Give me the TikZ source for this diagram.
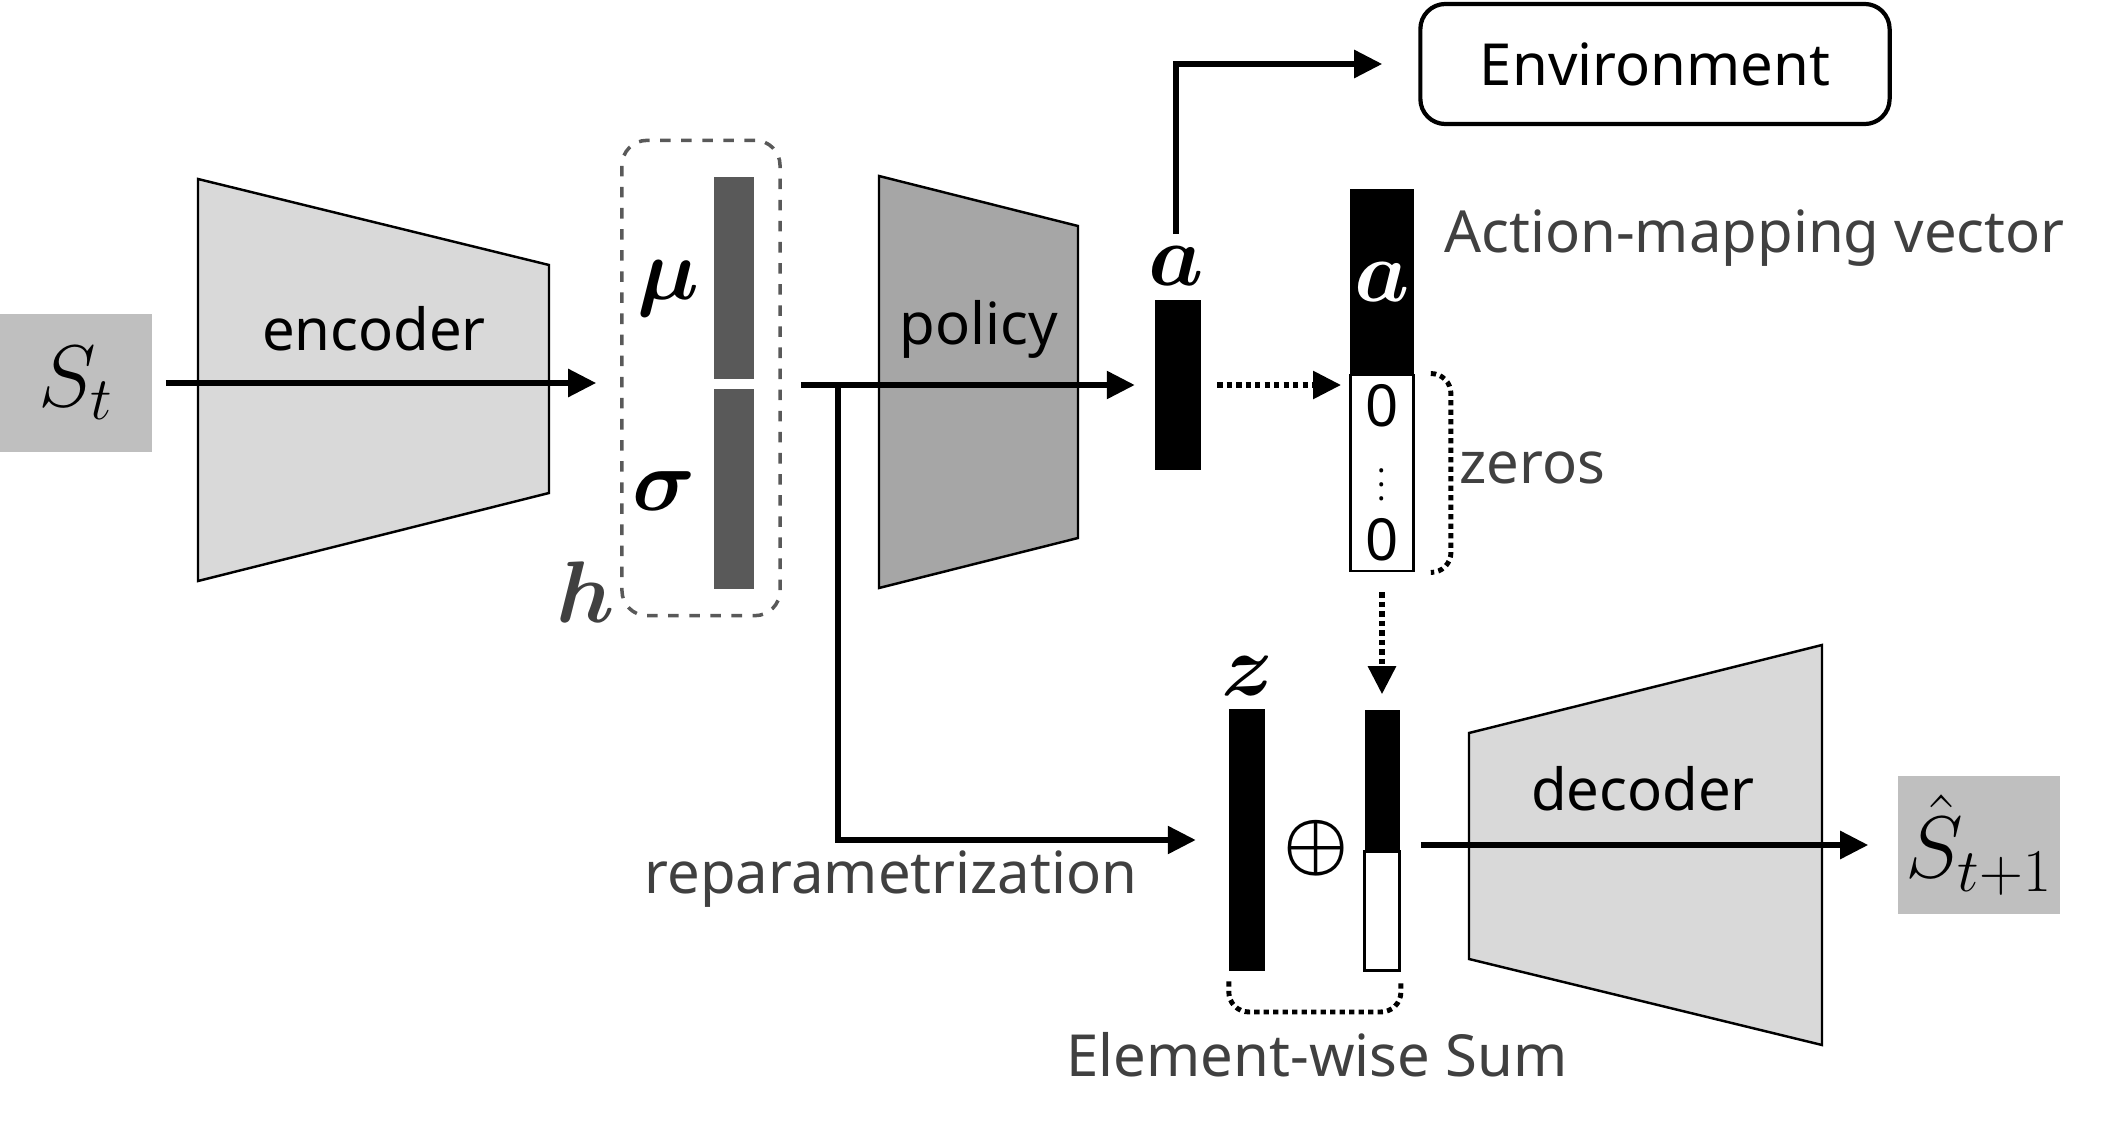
\documentclass[tikz,border=0pt]{standalone}
\usepackage{amsmath}
\usepackage[no-math]{fontspec}
\setmainfont{Noto Sans}
\usepackage{xcolor}
\usepackage{tikz}
\usetikzlibrary{arrows.meta}

\definecolor{boxgray}{HTML}{BFBFBF}
\definecolor{encgray}{HTML}{D9D9D9}
\definecolor{polgray}{HTML}{A6A6A6}
\definecolor{bargray}{HTML}{595959}
\definecolor{txtgray}{HTML}{404040}

\tikzset{
  txt/.style={font=\fontsize{16.5}{19}\selectfont},
  note/.style={txt, text=txtgray},
  sym/.style={font=\fontsize{23}{27}\selectfont},
  statebox/.style={fill=boxgray, minimum width=1.52cm, minimum height=1.37cm, inner sep=0pt, font=\fontsize{25}{29}\selectfont},
  net/.style={draw, line width=0.7pt},
  bar/.style={fill=black, minimum width=0.35cm, inner sep=0pt},
  openbar/.style={draw, fill=white, line width=0.8pt, inner sep=0pt},
  arr/.style={line width=1.6pt, -{Triangle[length=0.28cm,width=0.27cm]}},
  dotarr/.style={arr, dash pattern=on 1.5pt off 1.2pt},
  brace/.style={line width=1.4pt, dash pattern=on 1.5pt off 1.2pt, rounded corners=0.2cm},
}

\begin{document}
\begin{tikzpicture}[x=0.01cm, y=-0.01cm]
        \useasboundingbox (0,0) rectangle (2108,1127);
        % networks
        \draw [net, fill=encgray] (198,179) -- (549,265) -- (549,493) -- (198,581) -- cycle;
        \draw [net, fill=polgray] (879,176) -- (1078,226) -- (1078,538) -- (879,588) -- cycle;
        \draw [net, fill=encgray] (1469,733) -- (1822,645) -- (1822,1045) -- (1469,959) -- cycle;
        \node (enc) at (374,329) [txt] {encoder};
        \node (pol) at (979,329) [txt] {policy};
        \node (dec) at (1643,789) [txt] {decoder};
        % states
        \node (st) at (76,383) [statebox] {$S_t$};
        \node (sn) at (1979,845) [statebox, minimum width=1.62cm, minimum height=1.38cm] {$\hat{S}_{t+1}$};
        % latent h
        \node (hbox) at (701,378) [draw=bargray, dashed, rounded corners=0.25cm, line width=1pt, minimum width=1.58cm, minimum height=4.75cm] {};
        \node (mu) at (734,278) [bar, fill=bargray, minimum width=0.40cm, minimum height=2.02cm] {};
        \node (sig) at (734,489) [bar, fill=bargray, minimum width=0.40cm, minimum height=2.00cm] {};
        \node (mulab) at (668,289) [sym] {$\boldsymbol{\mu}$};
        \node (siglab) at (664,491) [sym] {$\boldsymbol{\sigma}$};
        \node (hlab) at (586,592) [sym, text=txtgray] {$\boldsymbol{h}$};
        % action
        \node (abar) at (1178,385) [bar, minimum width=0.45cm, minimum height=1.69cm] {};
        \node (alab) at (1176,266) [sym] {$\boldsymbol{a}$};
        \node (env) at (1655,64) [txt, draw, rounded corners=0.25cm, line width=1.2pt, minimum width=4.69cm, minimum height=1.20cm] {Environment};
        % action-mapping vector
        \node (amvtop) at (1382,282) [bar, sym, text=white, minimum width=0.63cm, minimum height=1.85cm] {$\boldsymbol{a}$};
        \node (amvbot) at (1382,473) [openbar, minimum width=0.63cm, minimum height=1.96cm] {};
        \node (zero1) at (1382,406) [txt, inner sep=0pt] {0};
        \node (zdots) at (1382,474) [inner sep=0pt, font=\fontsize{9}{10}\selectfont] {$\boldsymbol{\vdots}$};
        \node (zero2) at (1382,540) [txt, inner sep=0pt] {0};
        \node (amvlab) at (1432,238) [note, anchor=west] {Action-mapping vector};
        \node (zerolab) at (1532,468) [note] {zeros};
        % sum
        \node (zbar) at (1247,840) [bar, minimum height=2.61cm] {};
        \node (zlab) at (1248,676) [sym] {$\boldsymbol{z}$};
        \node (sumtop) at (1382,781) [bar, minimum height=1.42cm] {};
        \node (sumbot) at (1382,911) [openbar, minimum width=0.35cm, minimum height=1.19cm] {};
        \node (plus) at (1316,848) [font=\fontsize{21}{25}\selectfont] {$\boldsymbol{\oplus}$};
        \node (sumlab) at (1317,1055) [note] {Element-wise Sum};
        \node (replab) at (891,879) [note] {reparametrization};
        % connectors
        \coordinate (br) at ([xshift=0.56cm]hbox.east |- abar.west);
        \draw [arr] ([xshift=0.13cm]st.east) -- ([xshift=-0.24cm]st.east -| hbox.west);
        \draw [arr] ([xshift=0.19cm]hbox.east |- abar.west) -- ([xshift=-0.2cm]abar.west);
        \draw [arr] (br) |- ([xshift=-0.33cm]zbar.west);
        \draw [arr] (alab.north) |- ([xshift=-0.36cm]env.west);
        \draw [dotarr] ([xshift=0.16cm]abar.east) -- ([xshift=-0.08cm]abar.east -| amvbot.west);
        \draw [dotarr] ([yshift=-0.2cm]amvbot.south) -- ([yshift=0.15cm]sumtop.north);
        \draw [arr] ([xshift=0.2cm]sumbot.east |- sn.west) -- ([xshift=-0.29cm]sn.west);
        \draw [brace] ([xshift=0.16cm]amvbot.north east) -- ++(20,0) -- ([xshift=0.36cm]amvbot.south east) -- ++(-20,0);
        \draw [brace] ([yshift=-0.1cm]zbar.south west) |- ([yshift=-0.4cm]sumbot.south east) -- ([yshift=-0.1cm]sumbot.south east);
    \end{tikzpicture}
\end{document}
